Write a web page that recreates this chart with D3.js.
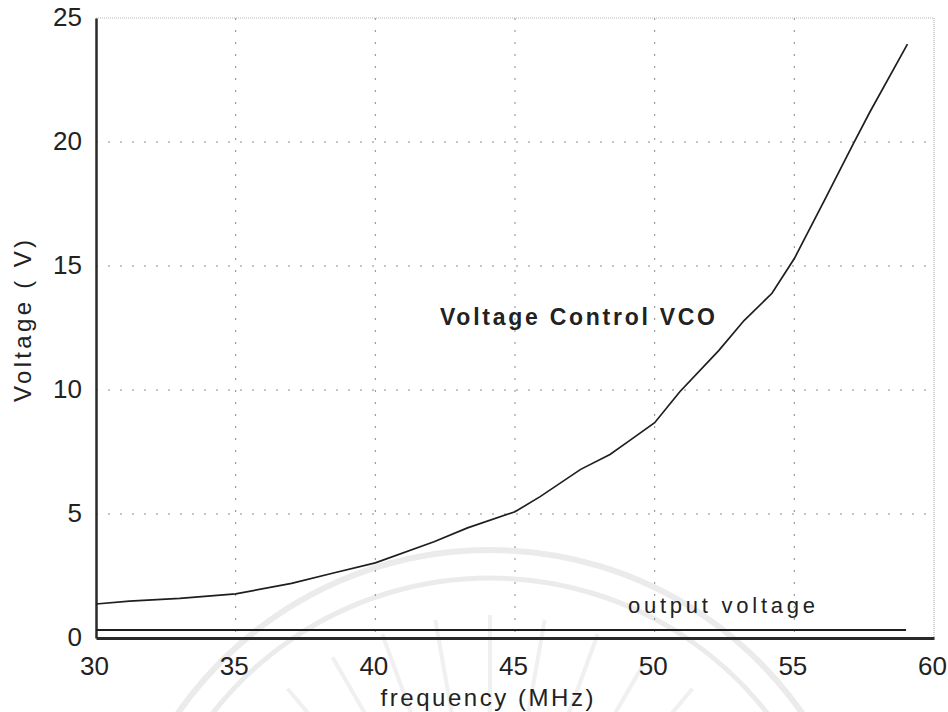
<!DOCTYPE html>
<html>
<head>
<meta charset="utf-8">
<script src="https://cdn.jsdelivr.net/npm/d3@7"></script>
<style>
  html, body { margin: 0; padding: 0; background: #fff; }
  svg { display: block; }
  text { font-family: "Liberation Sans", Arial, Helvetica, sans-serif; fill: #222; }
</style>
</head>
<body>
<svg id="chart" width="948" height="712"></svg>
<script>
// VCO tuning curve: control voltage needed for each output frequency
const frequencyMHz = [30, 31.2, 33, 35, 37, 38.5, 40, 42.1, 43.3, 45, 45.9, 47.35, 48.4, 49.1, 50, 50.9, 52.3, 53.2, 54.2, 55, 56.1, 57.1, 57.7, 59.05];
const controlVolts = [1.37, 1.49, 1.6, 1.78, 2.2, 2.62, 3.03, 3.88, 4.44, 5.09, 5.7, 6.8, 7.4, 7.96, 8.68, 9.93, 11.6, 12.8, 13.9, 15.3, 17.7, 19.9, 21.2, 23.95];

// Output voltage of the oscillator across the same band
const outputFreqMHz = [30, 59];
const outputVolts = [0.32, 0.32];

// Axis ticks
const xTicks = [30, 35, 40, 45, 50, 55, 60];
const yTicks = [0, 5, 10, 15, 20, 25];

const svg = d3.select("#chart");
const plotLeft = 96, plotRight = 934, plotTop = 18, plotBottom = 638;

const x = d3.scaleLinear().domain([30, 60]).range([plotLeft, plotRight]);
const y = d3.scaleLinear().domain([0, 25]).range([plotBottom, plotTop]);

// Faint circular emblem printed behind the plot
const mark = svg.append("g").attr("fill", "none").attr("stroke", "#ebebeb");
const cx = 490, cy = 930;
[[380, 6], [352, 5]].forEach(([r, w]) => {
  mark.append("path")
    .attr("d", d3.arc()({ innerRadius: r, outerRadius: r, startAngle: -1.2, endAngle: 1.2 }))
    .attr("transform", `translate(${cx},${cy})`)
    .attr("stroke-width", w);
});
d3.range(-60, 61, 10).forEach(deg => {
  const a = deg * Math.PI / 180;
  mark.append("line")
    .attr("x1", cx + Math.sin(a) * 200).attr("y1", cy - Math.cos(a) * 200)
    .attr("x2", cx + Math.sin(a) * 315).attr("y2", cy - Math.cos(a) * 315)
    .attr("stroke-width", 4)
    .attr("stroke", "#f0f0f0");
});

// Grid lines
const grid = svg.append("g").attr("stroke", "#8a8a8a").attr("stroke-width", 1).attr("stroke-dasharray", "2,10");
grid.selectAll("line.v").data(xTicks.slice(1, -1)).join("line").attr("class", "v")
  .attr("x1", d => x(d)).attr("x2", d => x(d)).attr("y1", plotTop).attr("y2", plotBottom);
grid.selectAll("line.h").data(yTicks.slice(1, -1)).join("line").attr("class", "h")
  .attr("x1", plotLeft).attr("x2", plotRight).attr("y1", d => y(d)).attr("y2", d => y(d));

// Light frame on top and right
svg.append("path")
  .attr("d", `M${plotLeft},${plotTop}H${plotRight}V${plotBottom}`)
  .attr("fill", "none").attr("stroke", "#b5b5b5").attr("stroke-width", 1.2).attr("stroke-dasharray", "1,1");

// Axes
const xAxis = svg.append("g").attr("transform", `translate(0,${plotBottom})`)
  .call(d3.axisBottom(x).tickValues(xTicks).tickSize(0).tickPadding(0));
xAxis.select(".domain").attr("stroke", "#2a2a2a").attr("stroke-width", 3);
xAxis.selectAll("text").attr("font-size", 26).attr("dy", null).attr("y", 37).attr("dx", -2)
  .attr("fill", "#222").style("font-family", "'Liberation Sans', Arial, sans-serif");

const yAxis = svg.append("g").attr("transform", `translate(${plotLeft},0)`)
  .call(d3.axisLeft(y).tickValues(yTicks).tickSize(0).tickPadding(0));
yAxis.select(".domain").attr("stroke", "#2a2a2a").attr("stroke-width", 2.5);
yAxis.selectAll("text").attr("font-size", 26).attr("dy", null).attr("x", -14).attr("y", 7)
  .attr("fill", "#222").style("font-family", "'Liberation Sans', Arial, sans-serif");

// Curves
const line = d3.line().x(d => x(d[0])).y(d => y(d[1]));
svg.append("path")
  .datum(d3.zip(frequencyMHz, controlVolts))
  .attr("d", line)
  .attr("fill", "none").attr("stroke", "#1e1e1e").attr("stroke-width", 1.7);
svg.append("path")
  .datum(d3.zip(outputFreqMHz, outputVolts))
  .attr("d", line)
  .attr("fill", "none").attr("stroke", "#1e1e1e").attr("stroke-width", 2);

// Curve labels
svg.append("text")
  .attr("x", 440).attr("y", 325)
  .attr("font-size", 23).attr("font-weight", "bold")
  .attr("textLength", 275).attr("lengthAdjust", "spacing")
  .text("Voltage Control VCO");
svg.append("text")
  .attr("x", 628).attr("y", 613)
  .attr("font-size", 22)
  .attr("textLength", 187).attr("lengthAdjust", "spacing")
  .text("output voltage");

// Axis titles
svg.append("text")
  .attr("x", 487).attr("y", 706)
  .attr("text-anchor", "middle")
  .attr("font-size", 24)
  .attr("textLength", 213).attr("lengthAdjust", "spacing")
  .text("frequency (MHz)");
svg.append("text")
  .attr("transform", "translate(31,321) rotate(-90)")
  .attr("text-anchor", "middle")
  .attr("font-size", 24)
  .attr("textLength", 162).attr("lengthAdjust", "spacing")
  .text("Voltage ( V)");
</script>
</body>
</html>
